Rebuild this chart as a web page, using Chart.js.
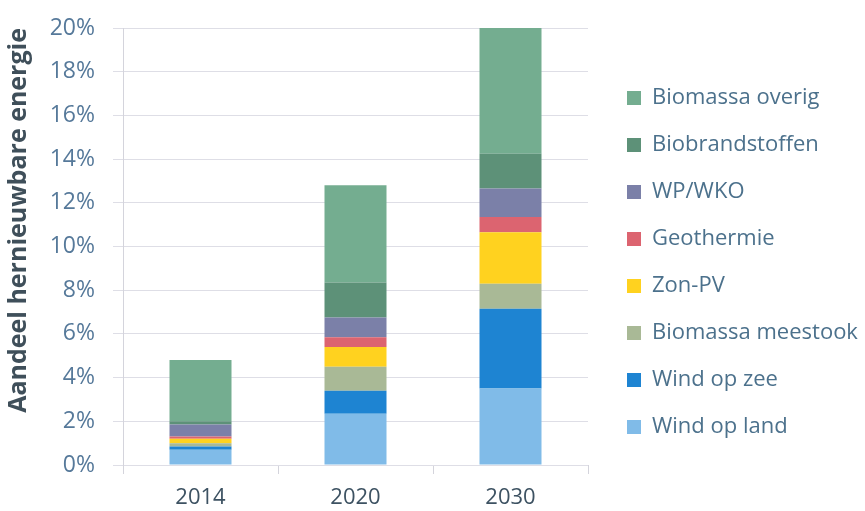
<!DOCTYPE html>
<html>
<head>
<meta charset="utf-8">
<script src="https://cdn.jsdelivr.net/npm/chart.js@4"></script>
<style>
  html, body { margin: 0; padding: 0; background: #ffffff; }
  #wrap { position: relative; width: 865px; height: 511px; }
</style>
</head>
<body>
<div id="wrap"><canvas id="chart" width="865" height="511"></canvas></div>
<script>
// categories and series (percent of renewable energy share)
const years = ["2014", "2020", "2030"];
const windLand = [0.7, 2.35, 3.5];
const windZee = [0.15, 1.05, 3.65];
const biomassaMeestook = [0.15, 1.1, 1.15];
const zonPV = [0.2, 0.9, 2.35];
const geothermie = [0.1, 0.45, 0.7];
const wpWko = [0.55, 0.9, 1.3];
const biobrandstoffen = [0.15, 1.6, 1.6];
const biomassaOverig = [2.8, 4.45, 5.75];
const yTicks = [0, 2, 4, 6, 8, 10, 12, 14, 16, 18, 20];

const FONT = "'Open Sans', sans-serif";
const LEGEND_WIDTH = 263;

const series = [
  { label: "Wind op land", data: windLand, color: "#80bbe8" },
  { label: "Wind op zee", data: windZee, color: "#1e84d2" },
  { label: "Biomassa meestook", data: biomassaMeestook, color: "#a9b996" },
  { label: "Zon-PV", data: zonPV, color: "#ffd21f" },
  { label: "Geothermie", data: geothermie, color: "#dc6470" },
  { label: "WP/WKO", data: wpWko, color: "#7b80a8" },
  { label: "Biobrandstoffen", data: biobrandstoffen, color: "#5d9178" },
  { label: "Biomassa overig", data: biomassaOverig, color: "#74ad90" },
];

// the layout caps side boxes at a fraction of the canvas; give the legend a fixed width instead
const wideLegend = {
  id: "wideLegend",
  afterInit: (chart) => {
    const lg = chart.legend;
    if (!lg) return;
    const orig = lg.update.bind(lg);
    lg.update = (w, h, m) => {
      orig(600, h, m);
      lg.width = LEGEND_WIDTH;
    };
  },
};

const ctx = document.getElementById("chart").getContext("2d");
new Chart(ctx, {
  type: "bar",
  data: {
    labels: years,
    datasets: series.map((s) => ({
      label: s.label,
      data: s.data,
      backgroundColor: s.color,
      borderWidth: 0,
      barPercentage: 0.8,
      categoryPercentage: 0.5,
    })),
  },
  plugins: [wideLegend],
  options: {
    responsive: false,
    animation: false,
    layout: { padding: { top: 14, right: 0, bottom: 0, left: 4 } },
    plugins: {
      tooltip: { enabled: false },
      legend: {
        position: "right",
        reverse: true,
        labels: {
          boxWidth: 14,
          boxHeight: 14,
          padding: 25,
          color: "#4c718c",
          font: { family: FONT, size: 22 },
        },
      },
    },
    scales: {
      x: {
        stacked: true,
        border: { display: false },
        afterFit: (s) => { s.height = 46; },
        grid: {
          offset: true,
          drawOnChartArea: false,
          drawTicks: true,
          tickLength: 9,
          color: "#d4d4dc",
        },
        ticks: {
          color: "#3d5262",
          padding: 11,
          font: { family: FONT, size: 22 },
        },
      },
      y: {
        stacked: true,
        min: 0,
        max: 20,
        afterBuildTicks: (scale) => {
          scale.ticks = yTicks.map((v) => ({ value: v }));
        },
        afterFit: (s) => {
          s.width = 119;
          s.paddingTop = 28;
        },
        border: { display: true, color: "#d4d4dc" },
        grid: { color: "#dedee6", tickLength: 10 },
        ticks: {
          color: "#56799a",
          padding: 18,
          font: { family: FONT, size: 23 },
          callback: (v) => v + "%",
        },
        title: {
          display: true,
          align: "end",
          text: "Aandeel hernieuwbare energie",
          color: "#3f4f5a",
          padding: { top: 0, bottom: 0 },
          font: { family: FONT, size: 25, weight: "bold" },
        },
      },
      // empty spacer between plot and legend
      gap: {
        type: "linear",
        position: "right",
        display: true,
        afterFit: (s) => { s.width = 14; },
        grid: { display: false },
        border: { display: false },
        ticks: { display: false },
      },
    },
  },
});
</script>
</body>
</html>
